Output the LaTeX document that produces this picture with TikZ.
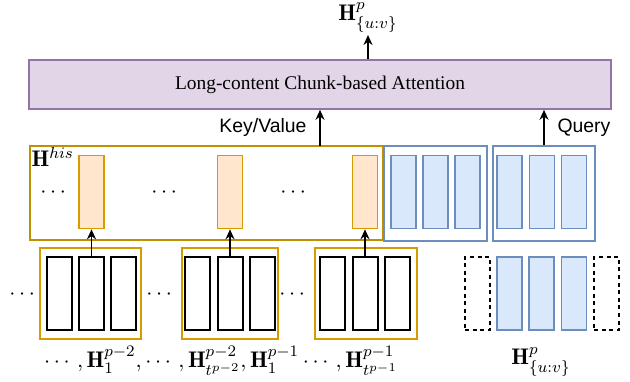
\documentclass[tikz,border=0pt]{standalone}
\usepackage{amsmath, fontspec}
\setsansfont{Liberation Sans}
\newfontfamily\timesfont{Liberation Serif}
\usetikzlibrary{arrows.meta}
\definecolor{attfill}{HTML}{E1D5E7}
\definecolor{attline}{HTML}{9673A6}
\definecolor{hisline}{HTML}{BF9000}
\definecolor{orfill}{HTML}{FFE6CC}
\definecolor{orline}{HTML}{D79B00}
\definecolor{qfill}{HTML}{DAE8FC}
\definecolor{qline}{HTML}{6C8EBF}
\tikzset{bar/.style = {draw, line width=1pt, minimum width=12.5pt, minimum height=36.5pt, inner sep=0pt}}
\tikzset{hisbar/.style = {bar, draw=orline, fill=orfill, line width=0.8pt}}
\tikzset{qbar/.style = {bar, draw=qline, fill=qfill, line width=0.8pt}}
\tikzset{gapbar/.style = {bar, dash pattern=on 2pt off 1.8pt}}
\tikzset{chunk/.style = {draw=orline, line width=0.8pt, minimum height=45.5pt, inner sep=0pt}}
\tikzset{qbox/.style = {draw=qline, line width=0.8pt, minimum height=47.5pt, inner sep=0pt}}
\tikzset{arr/.style = {-{Stealth[length=5pt, width=4.5pt]}, line width=0.9pt}}
\tikzset{mathlab/.style = {font=\fontsize{11.3}{13}\selectfont}}
\tikzset{sflab/.style = {font=\sffamily\fontsize{9.7}{12}\selectfont}}

\begin{document}
\begin{tikzpicture}[x=0.5pt, y=-0.5pt]
    \useasboundingbox (0,0) rectangle (630,381);
    % attention block
    \node[draw=attline, fill=attfill, line width=0.8pt, minimum width=291pt, minimum height=24.5pt, font=\timesfont\fontsize{9.7}{12}\selectfont] (att) at (320,84.5) {Long-content Chunk-based Attention};
    \node[mathlab, anchor=south, inner sep=1pt] (hout) at (368,35) {$\mathbf{H}^p_{\{u:v\}}$};
    \draw[arr] (att.north -| hout.south) -- (hout.south);
    % history memory
    \node[draw=hisline, line width=0.8pt, minimum width=176.5pt, minimum height=47pt, inner sep=0pt] (his) at (206.5,193) {};
    \node[mathlab, anchor=north west, inner sep=1pt] (hislab) at (his.north west) {$\mathbf{H}^{his}$};
    \foreach \x/\n in {91.5/o1, 230/o2, 365/o3}
        \node[hisbar] (\n) at (\x,192) {};
    \foreach \x/\n in {55/hd1, 166/hd2, 295/hd3}
        \node[mathlab] (\n) at (\x,193) {$\cdots$};
    \coordinate (kv) at (320,146);
    \draw[arr] (kv) -- (kv |- att.south) node[midway, left=3pt, sflab] {Key/Value};
    % query
    \node[qbox, minimum width=51.5pt] (qa) at (435.5,193.5) {};
    \node[qbox, minimum width=51pt] (qb) at (544,193.5) {};
    \foreach \x in {403.5, 435.5, 467.5, 509.5, 542, 574}
        \node[qbar] at (\x,192) {};
    \draw[arr] (qb.north) -- (qb.north |- att.south) node[midway, right=3pt, sflab] {Query};
    % previous chunks
    \node[chunk, minimum width=50.5pt] (c1) at (90.5,293.5) {};
    \node[chunk, minimum width=48pt] (c2) at (230,293.5) {};
    \node[chunk, minimum width=51pt] (c3) at (366,293.5) {};
    \foreach \x/\n in {59.5/a1, 91.5/b1, 123.5/d1, 197.5/a2, 230/b2, 262.5/d2, 332.5/a3, 365/b3, 397.5/d3}
        \node[bar] (\n) at (\x,293.5) {};
    \draw[arr] (b1.north) -- (o1.south);
    \draw[arr] (b2.north) -- (o2.south);
    \draw[arr] (b3.north) -- (o3.south);
    \foreach \x/\n in {24/cd1, 161/cd2, 294/cd3}
        \node[mathlab] (\n) at (\x,295) {$\cdots$};
    % current chunk
    \node[gapbar] (g1) at (477.5,293.5) {};
    \node[gapbar] (g2) at (606.5,293.5) {};
    \foreach \x in {509.5, 541.5, 574}
        \node[qbar] at (\x,293.5) {};
    \node[mathlab] (hist) at (221,361) {$\cdots, \mathbf{H}_1^{p-2}, \cdots, \mathbf{H}_{t^{p-2}}^{p-2}, \mathbf{H}_1^{p-1} \cdots, \mathbf{H}_{t^{p-1}}^{p-1}$};
    \node[mathlab] (cur) at (541,362) {$\mathbf{H}^p_{\{u:v\}}$};
\end{tikzpicture}
\end{document}
